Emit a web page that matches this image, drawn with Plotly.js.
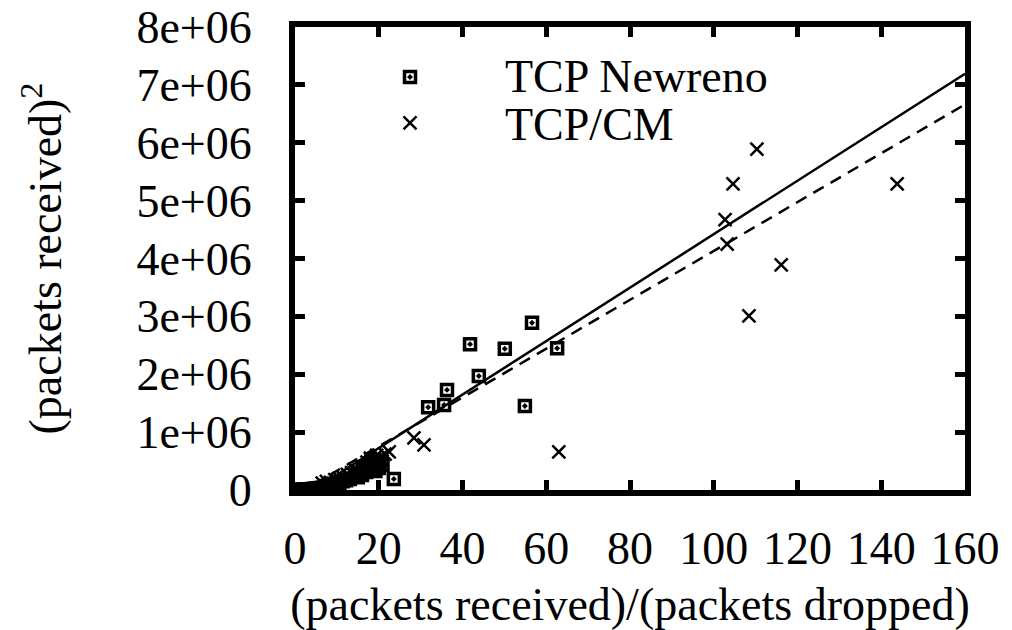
<!DOCTYPE html>
<html>
<head>
<meta charset="utf-8">
<script src="https://cdn.plot.ly/plotly-3.0.1.min.js"></script>
<style>html,body{margin:0;padding:0;background:#fff;}#chart{width:1012px;height:630px;}</style>
</head>
<body>
<div id="chart"></div>
<script>
// TCP Newreno (squares)
const newrenoX = [0.3,0.8,1.2,1.7,2.2,2.7,3.2,3.6,4.1,4.6,5.1,5.6,6.1,6.6,7.1,7.6,8.2,9.0,9.8,10.6,11.4,12.2,
                  13.1,14.5,15.5,16.2,16.8,17.3,17.8,18.2,18.6,19.0,19.5,20.0,20.9,15.0,16.0,17.0,18.0,19.2,23.6,
                  31.8,35.6,36.3,41.8,43.9,50.1,54.9,56.6,62.6];
const newrenoY = [0.001,0.002,0.004,0.005,0.008,0.01,0.012,0.015,0.018,0.02,0.025,0.03,0.035,0.04,0.05,0.06,0.07,0.08,0.1,0.12,0.15,0.17,
                  0.19,0.25,0.3,0.34,0.38,0.42,0.46,0.5,0.4,0.52,0.45,0.38,0.43,0.22,0.26,0.31,0.36,0.33,0.19,
                  1.43,1.47,1.73,2.52,1.97,2.44,1.45,2.89,2.45].map(v => v * 1e6);
// TCP/CM (crosses)
const cmX = [6.5,7.5,8.5,9.5,10.5,11.5,12.5,13.5,14.2,15.0,15.8,16.5,17.2,18.0,18.8,19.5,20.3,21.5,22.5,
             9.0,11.0,13.0,14.8,16.2,17.6,19.0,20.8,
             28.4,30.8,63.0,102.7,103.2,104.6,108.4,110.3,116.1,143.8];
const cmY = [0.12,0.15,0.13,0.18,0.2,0.22,0.27,0.3,0.36,0.33,0.42,0.4,0.48,0.55,0.5,0.6,0.56,0.62,0.66,
             0.08,0.16,0.24,0.28,0.34,0.38,0.45,0.5,
             0.90,0.78,0.66,4.67,4.25,5.29,3.01,5.89,3.89,5.29].map(v => v * 1e6);
const seriesNames = ['TCP Newreno', 'TCP/CM'];
// fitted lines y = slope*x + intercept
const fitXRange = [0, 160];
const newrenoFit = {slope: 46200, intercept: -200000};
const cmFit = {slope: 42200, intercept: -90000};
const yTickVals = [0,1e6,2e6,3e6,4e6,5e6,6e6,7e6,8e6];
const yTickText = ["0","1e+06","2e+06","3e+06","4e+06","5e+06","6e+06","7e+06","8e+06"];
const xTickVals = [0,20,40,60,80,100,120,140,160];

const FONT = 'Liberation Serif';
const fitLine = f => fitXRange.map(x => f.slope * x + f.intercept);

const traces = [
  {x: newrenoX, y: newrenoY, type: 'scatter', mode: 'markers', name: '',
   marker: {symbol: 'square-open-dot', size: 11, color: '#000', line: {width: 3.5, color: '#000'}}},
  {x: cmX, y: cmY, type: 'scatter', mode: 'markers', name: '',
   marker: {symbol: 'x-thin-open', size: 13, color: '#000', line: {width: 2.5, color: '#000'}}},
  {x: fitXRange, y: fitLine(newrenoFit), type: 'scatter', mode: 'lines', showlegend: false,
   line: {color: '#000', width: 2.5}},
  {x: fitXRange, y: fitLine(cmFit), type: 'scatter', mode: 'lines', showlegend: false,
   line: {color: '#000', width: 2.5, dash: '12px,8px'}}
];

const layout = {
  width: 1012, height: 630,
  margin: {l: 295, r: 47, t: 27, b: 140},
  paper_bgcolor: '#fff', plot_bgcolor: '#fff',
  font: {family: FONT, color: '#000', size: 46},
  showlegend: true,
  legend: {x: 0.1418, y: 0.9525, xanchor: 'left', yanchor: 'top', bgcolor: 'rgba(0,0,0,0)',
           font: {family: FONT, size: 33, color: '#000'}, itemwidth: 30, tracegroupgap: 0},
  annotations: [
    {xref: 'paper', yref: 'paper', x: (503 - 295) / 670, y: (490 - 77) / 463, xanchor: 'left', yanchor: 'middle',
     text: seriesNames[0], showarrow: false, font: {family: FONT, size: 46, color: '#000'}},
    {xref: 'paper', yref: 'paper', x: (503 - 295) / 670, y: (490 - 124) / 463, xanchor: 'left', yanchor: 'middle',
     text: seriesNames[1], showarrow: false, font: {family: FONT, size: 46, color: '#000'}}
  ],
  xaxis: {range: [0, 160], tickvals: xTickVals, ticktext: xTickVals.map(String),
          ticks: 'inside', ticklen: 10, tickwidth: 5, tickcolor: '#000',
          showline: true, linewidth: 6, linecolor: '#000', mirror: 'allticks',
          showgrid: false, zeroline: false, ticklabelstandoff: 13,
          tickfont: {family: FONT, size: 46, color: '#000'},
          title: {text: '(packets received)/(packets dropped)', standoff: 30,
                  font: {family: FONT, size: 46, color: '#000'}}},
  yaxis: {range: [0, 8e6], tickvals: yTickVals, ticktext: yTickText,
          ticks: 'inside', ticklen: 10, tickwidth: 5, tickcolor: '#000',
          showline: true, linewidth: 6, linecolor: '#000', mirror: 'allticks',
          showgrid: false, zeroline: false, ticklabelstandoff: 28,
          tickfont: {family: FONT, size: 46, color: '#000'},
          title: {text: '(packets received)<sup>2</sup>', standoff: 62,
                  font: {family: FONT, size: 46, color: '#000'}}}
};

Plotly.newPlot('chart', traces, layout, {displayModeBar: false, staticPlot: true});
</script>
</body>
</html>
